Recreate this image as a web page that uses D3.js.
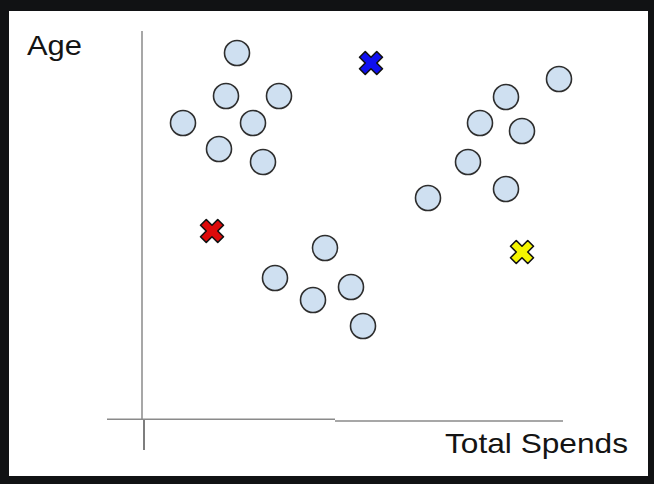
<!DOCTYPE html>
<html>
<head>
<meta charset="utf-8">
<script src="https://cdn.jsdelivr.net/npm/d3@7"></script>
<style>
  html, body { margin: 0; padding: 0; background: #111214; }
  svg { display: block; }
</style>
</head>
<body>
<svg id="chart" width="654" height="484"></svg>
<script>
// Customer points (Total Spends, Age) in unitless chart units
const pointsX = [95, 84, 137, 41, 111, 77, 121,
                 417, 364, 338, 380, 326, 364, 286,
                 183, 133, 209, 171, 221];
const pointsY = [367, 324, 324, 297, 297, 271, 258,
                 341, 323, 297, 289, 258, 231, 222,
                 172, 142, 133, 120, 94];
// Cluster centroids
const centroidNames = ["blue", "red", "yellow"];
const centroidX = [229, 70, 380];
const centroidY = [357, 189, 168];
const centroidColors = ["#1010f0", "#dd0a0a", "#f5f500"];
// Axis labels
const xLabel = "Total Spends";
const yLabel = "Age";

const svg = d3.select("#chart");
// white canvas inside dark frame
svg.append("rect").attr("x", 9).attr("y", 11).attr("width", 639).attr("height", 465).attr("fill", "#ffffff");

const x = d3.scaleLinear().domain([0, 421]).range([142, 563]);
const y = d3.scaleLinear().domain([0, 389]).range([420, 31]);

const axisColor = "#8a8a8a";
// vertical axis
svg.append("line").attr("x1", x(0)).attr("x2", x(0)).attr("y1", y(389)).attr("y2", 420)
  .attr("stroke", axisColor).attr("stroke-width", 1.5);
svg.append("line").attr("x1", 144).attr("x2", 144).attr("y1", 419).attr("y2", 450)
  .attr("stroke", "#707070").attr("stroke-width", 1.8);
// horizontal axis (two segments with small step as in the reference)
svg.append("line").attr("x1", 107).attr("x2", 335).attr("y1", 419.3).attr("y2", 419.3)
  .attr("stroke", axisColor).attr("stroke-width", 1.5);
svg.append("line").attr("x1", 335).attr("x2", x(421)).attr("y1", 421).attr("y2", 421)
  .attr("stroke", axisColor).attr("stroke-width", 1.5);

// labels
svg.append("text").attr("x", 27).attr("y", 55)
  .attr("font-family", "Liberation Sans, Arial, sans-serif").attr("font-size", 28)
  .attr("fill", "#141414").attr("textLength", 55).attr("lengthAdjust", "spacingAndGlyphs")
  .text(yLabel);
svg.append("text").attr("x", 445).attr("y", 453)
  .attr("font-family", "Liberation Sans, Arial, sans-serif").attr("font-size", 28)
  .attr("fill", "#141414").attr("textLength", 183).attr("lengthAdjust", "spacingAndGlyphs")
  .text(xLabel);

// points
const pts = pointsX.map((v, i) => ({x: v, y: pointsY[i]}));
svg.append("g").selectAll("circle").data(pts).join("circle")
  .attr("cx", d => x(d.x)).attr("cy", d => y(d.y)).attr("r", 12.5)
  .attr("fill", "#cfe0f1").attr("stroke", "#2e2e2e").attr("stroke-width", 1.6);

// centroids as X marks
const cents = centroidNames.map((n, i) => ({name: n, x: centroidX[i], y: centroidY[i], c: centroidColors[i]}));
const cross = d3.symbol().type(d3.symbolCross).size(330);
svg.append("g").selectAll("path").data(cents).join("path")
  .attr("d", cross)
  .attr("transform", d => `translate(${x(d.x)},${y(d.y)}) rotate(45)`)
  .attr("fill", d => d.c).attr("stroke", "#111").attr("stroke-width", 1.6)
  .attr("stroke-linejoin", "round");
</script>
</body>
</html>
